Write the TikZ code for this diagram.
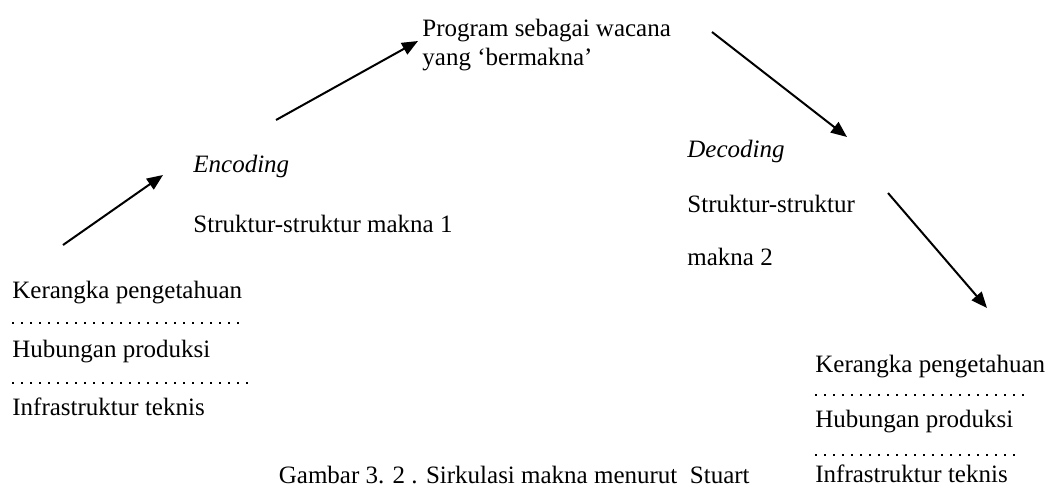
\documentclass[tikz,border=0pt]{standalone}
\usepackage{fontspec}
\setmainfont{Liberation Serif}
\usetikzlibrary{arrows.meta}

\begin{document}
\begin{tikzpicture}[
    x=0.5pt, y=-0.5pt,
    txt/.style={anchor=base west, inner sep=0pt, font=\fontsize{12.5}{15}\selectfont},
    flow/.style={-{Triangle[length=8pt,width=6.5pt]}, line width=1pt},
    leader/.style={line width=1.2pt, dash pattern=on 1pt off 3.5pt}
  ]
    \useasboundingbox (0,0) rectangle (1053,488);

    \node[txt] (program) at (422,36) {Program sebagai wacana};
    \node[txt] (bermakna) at (422,65) {yang `bermakna'};

    \node[txt] (encoding) at (193,172) {\itshape Encoding};
    \node[txt] (makna1) at (193,232) {Struktur-struktur makna 1};
    \node[txt] (decoding) at (687,157) {\itshape Decoding};
    \node[txt] (struktur2) at (687,212) {Struktur-struktur};
    \node[txt] (makna2) at (687,265) {makna 2};

    \node[txt] (kerangkaL) at (12,298) {Kerangka pengetahuan};
    \node[txt] (hubunganL) at (12,357) {Hubungan produksi};
    \node[txt] (infraL) at (12,415) {Infrastruktur teknis};
    \draw[leader] (12,323) -- (243,323);
    \draw[leader] (12,383) -- (250,383);

    \node[txt] (kerangkaR) at (815,372) {Kerangka pengetahuan};
    \node[txt] (hubunganR) at (815,427) {Hubungan produksi};
    \node[txt] (infraR) at (815,482) {Infrastruktur teknis};
    \draw[leader] (815,395) -- (1030,395);
    \draw[leader] (815,455) -- (1017,455);

    \node[txt, anchor=base east] (caption) at (750,483) {Gambar 3. 2 . Sirkulasi makna menurut\ \ Stuart};

    \coordinate (enc-a) at (63,245);
    \coordinate (enc-b) at (163,175);
    \coordinate (enc-c) at (276,120);
    \coordinate (enc-d) at (418,41);
    \coordinate (dec-a) at (712,32);
    \coordinate (dec-b) at (847,137);
    \coordinate (dec-c) at (888,193);
    \coordinate (dec-d) at (987,308);
    \draw[flow] (enc-a) -- (enc-b);
    \draw[flow] (enc-c) -- (enc-d);
    \draw[flow] (dec-a) -- (dec-b);
    \draw[flow] (dec-c) -- (dec-d);
  \end{tikzpicture}
\end{document}
